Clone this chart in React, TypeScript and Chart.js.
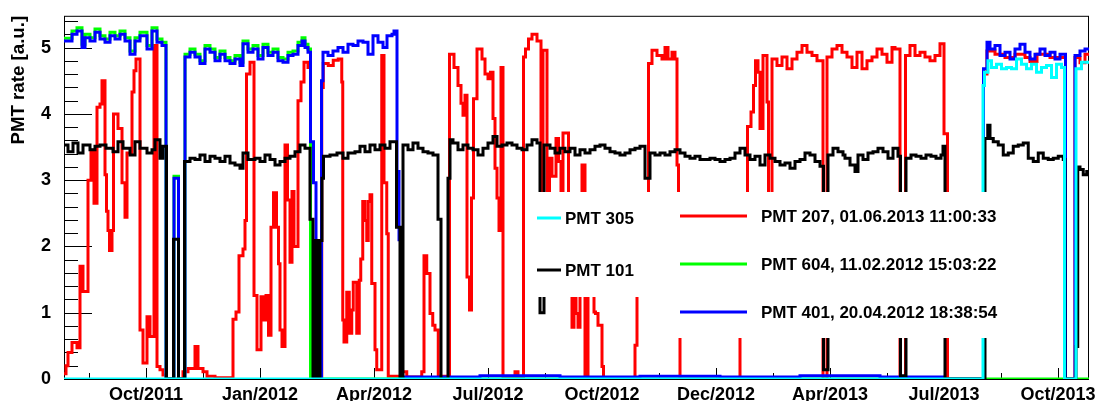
import React, { useEffect, useRef } from 'react';
import { Chart, registerables } from 'chart.js';

Chart.register(...registerables);

// x unit: days (axis window of the run period), y: PMT rate in a.u.
const X_MIN = 51.2;
const X_MAX = 871.2;
const Y_MIN = 0;
const Y_MAX = 5.48;

const X_TICK_DAYS = [116.8, 208, 299.2, 390.4, 481.6, 572.8, 664, 755.2, 846.4];
const X_TICK_LABELS = ['Oct/2011', 'Jan/2012', 'Apr/2012', 'Jul/2012', 'Oct/2012', 'Dec/2012', 'Apr/2013', 'Jul/2013', 'Oct/2013'];
const X_MINOR_TICK_DAYS = [71.2, 162.4, 253.6, 344.8, 436, 527.2, 618.4, 709.6, 800.8];
const Y_TICKS = [0, 1, 2, 3, 4, 5];
const Y_MINOR_TICKS = [0.2, 0.4, 0.6, 0.8, 1.2, 1.4, 1.6, 1.8, 2.2, 2.4, 2.6, 2.8, 3.2, 3.4, 3.6, 3.8, 4.2, 4.4, 4.6, 4.8, 5.2, 5.4];

const Y_TITLE = 'PMT rate [a.u.]';

// [day, rate] — each value holds until the next day
const PMT305: [number, number][] = [
  [51.2, 0], [786.4, 4.43], [787.6, 4.63], [790.4, 4.8], [793.2, 4.7], [797.2, 4.75], [801.2, 4.68],
  [805.2, 4.7], [809.2, 4.68], [813.2, 4.83], [817.2, 4.75], [821.2, 4.68], [825.2, 4.75], [829.2, 4.63],
  [833.2, 4.7], [837.2, 4.73], [841.2, 4.55], [845.2, 4.75], [849.2, 4.7], [851.6, 0], [860.8, 4.68],
  [865.2, 4.78], [871.2, 4.78],
];

const PMT101: [number, number][] = [
  [51.2, 3.53], [54.4, 3.43], [58.4, 3.56], [62.4, 3.41], [66.4, 3.53], [72, 3.46], [76, 3.51], [80, 3.53],
  [84.8, 3.48], [90.4, 3.43], [94.4, 3.58], [98.4, 3.48], [104, 3.38], [108, 3.58], [112, 3.48], [117.6, 3.41],
  [121.6, 3.46], [124, 3.61], [128, 3.33], [130.4, 3.51], [133.2, 0], [138.8, 2.11], [142.8, 0], [147.6, 3.28],
  [152, 3.33], [156, 3.31], [160, 3.38], [164, 3.28], [168, 3.36], [172, 3.33], [176, 3.28], [180, 3.36],
  [184, 3.26], [188, 3.23], [192, 3.18], [194.4, 3.41], [198.4, 3.31], [204, 3.33], [208, 3.28], [212, 3.38],
  [216, 3.31], [220, 3.23], [224, 3.28], [228, 3.33], [232, 3.36], [236, 3.43], [240, 3.53], [244, 3.48],
  [248, 2.41], [250.4, 0], [252, 2.09], [254.4, 0], [256, 2.09], [257.6, 3.03], [258.8, 3.36], [264, 3.38],
  [269.6, 3.41], [274.4, 3.33], [278.4, 3.41], [284, 3.43], [288, 3.51], [292, 3.43], [296, 3.53], [300, 3.46],
  [304, 3.53], [308, 3.48], [312, 3.58], [317.2, 2.29], [320, 0], [322.4, 3.53], [326.4, 3.46], [330.4, 3.56],
  [334.4, 3.48], [338.4, 3.43], [342.4, 3.41], [346.4, 3.38], [350.4, 2.41], [352.8, 0], [358.4, 3.03],
  [360, 3.61], [362.4, 3.56], [366.4, 3.46], [370.4, 3.53], [374.4, 3.48], [378.4, 3.46], [382.4, 3.38],
  [386.4, 3.48], [390.4, 3.56], [394.4, 3.66], [397.6, 3.51], [401.6, 3.53], [405.6, 3.56], [409.6, 3.53],
  [413.6, 3.48], [417.6, 3.46], [421.6, 3.53], [425.6, 3.61], [429.6, 3.56], [432, 1.0], [435.2, 3.53],
  [440, 3.48], [444, 3.41], [448, 3.48], [452, 3.43], [456, 3.48], [460, 3.38], [464, 3.46], [468, 3.41],
  [472, 3.46], [476, 3.51], [480, 3.53], [484, 3.48], [488, 3.43], [492, 3.41], [496, 3.38], [500, 3.41],
  [504, 3.46], [508, 3.48], [512, 3.51], [516, 3.03], [520, 3.41], [524, 3.38], [528, 3.41], [532, 3.38],
  [536, 3.43], [540, 3.46], [544, 3.41], [548, 3.36], [552, 3.33], [556, 3.36], [560, 3.31], [564, 3.31],
  [568, 3.33], [572, 3.31], [576, 3.28], [580, 3.31], [584, 3.33], [588, 3.41], [592, 3.48], [596, 3.38],
  [600, 3.31], [604, 3.36], [608, 3.23], [612, 3.38], [616, 3.33], [620, 3.28], [624, 3.23], [628, 3.26],
  [632, 3.18], [636, 3.28], [640, 3.31], [644, 3.41], [648, 3.38], [652, 3.28], [656, 3.21], [658.8, 0.14],
  [662.4, 3.38], [666.4, 3.48], [670.4, 3.43], [674.4, 3.38], [676, 3.33], [680, 3.23], [684, 3.13],
  [686.4, 3.38], [690.4, 3.31], [694.4, 3.41], [698.4, 3.43], [702.4, 3.48], [706.4, 3.43], [710.4, 3.33],
  [714.4, 3.48], [718.4, 3.36], [720.4, 0.05], [724.8, 3.33], [728.8, 3.38], [732.8, 3.36], [736.8, 3.33],
  [740.8, 3.38], [744.8, 3.36], [748.8, 3.33], [752.8, 3.38], [754.4, 3.51], [756, 0], [788, 3.63],
  [790.2, 3.83], [792, 3.63], [794.6, 3.58], [798.6, 3.53], [802.6, 3.38], [806.6, 3.41], [810.6, 3.51],
  [814.6, 3.53], [818.6, 3.56], [822.6, 3.33], [826.6, 3.28], [830.6, 3.41], [834.6, 3.33], [838.6, 3.31],
  [842.6, 3.33], [846.6, 3.36], [850.6, 3.31], [852, 0], [860.8, 0.49], [862.2, 3.2], [864, 3.16],
  [866.6, 3.08], [869.4, 3.13], [871.2, 3.13],
];

const PMT207: [number, number][] = [
  [51.2, 0.08], [52.8, 0.2], [54.4, 0.4], [57.6, 0.55], [61.6, 0.47], [64, 1.7], [66.4, 1.32], [70.4, 3.0],
  [72.8, 3.45], [75.2, 2.65], [77.6, 4.1], [80, 4.15], [81.6, 4.5], [84, 3.08], [85.2, 2.53], [86.4, 2.24],
  [87.6, 1.94], [89.6, 2.24], [90.8, 4.0], [94.4, 3.78], [97.6, 2.96], [100, 2.44], [101.6, 3.41],
  [105.6, 4.33], [107.2, 4.65], [108.8, 4.83], [112, 0.74], [114.4, 0.24], [117.6, 0.94], [120, 0.64],
  [123.2, 5.03], [125.6, 0.19], [128, 0.14], [130.4, 0.06], [132.8, 0], [146.4, 0.11], [150.4, 0.16],
  [156, 0.49], [158.4, 0.16], [162.4, 0.11], [165.6, 0.04], [172, 0.02], [186.4, 0.9], [188.8, 1.01],
  [191.2, 1.86], [194.4, 1.96], [196, 2.39], [197.2, 4.6], [200, 4.78], [203.2, 1.26], [205.6, 0.44],
  [208.8, 1.24], [211.2, 0.89], [212.8, 1.26], [214.8, 0.66], [216.8, 2.29], [218.8, 2.81], [221.2, 2.29],
  [222.8, 1.74], [224, 0.74], [225.6, 0.49], [228, 3.53], [230, 2.7], [232, 1.76], [233.6, 2.83], [235.2, 2.0],
  [238.4, 4.2], [240.8, 4.48], [243.2, 4.78], [246.4, 4.7], [248.4, 0], [257.4, 4.4], [258.6, 4.76],
  [262.6, 4.73], [266.6, 4.81], [270.6, 4.83], [273.4, 4.48], [274.2, 0.89], [275.2, 0.56], [277.4, 1.31],
  [279.4, 0.69], [281.4, 1.04], [282.6, 1.46], [285.4, 0.69], [287.4, 1.49], [288.6, 1.81], [290.2, 2.68],
  [292, 2.39], [293.4, 2.09], [294.6, 2.68], [296, 2.78], [297.4, 1.44], [300, 0.44], [301.4, 0.14],
  [305.4, 4.88], [307.2, 2.96], [309.4, 2.19], [310.6, 0.04], [321.4, 0.11], [325.4, 0.03], [337.4, 0.11],
  [339.2, 1.86], [341.4, 1.59], [344, 0.99], [346.2, 0.81], [348, 0.74], [350.6, 0.04], [359.6, 4.9],
  [363.2, 4.7], [366.4, 4.43], [368.8, 4.16], [370.4, 3.98], [372, 4.28], [373.6, 1.54], [375.6, 1.04],
  [377.2, 2.73], [378.8, 4.23], [381.6, 4.98], [385.6, 4.83], [388, 4.6], [390.4, 4.53], [392.4, 4.63],
  [394.4, 3.93], [396, 3.18], [397.6, 2.73], [399.2, 2.24], [400.8, 4.7], [402.4, 0.03], [412, 0.11],
  [414.4, 0.03], [418.8, 4.86], [420.4, 4.98], [422.8, 5.13], [425.6, 5.2], [429.6, 5.1], [432.8, 2.0],
  [434.4, 4.96], [437.6, 2.0], [439.6, 3.33], [441.6, 3.06], [444.8, 3.63], [446.8, 3.28], [448.8, 2.0],
  [450.4, 3.71], [454.8, 2.0], [457.6, 0.78], [459.2, 2.0], [460.8, 0.99], [462.4, 0.78], [464, 2.0],
  [465.6, 3.23], [468, 0.06], [470.4, 2.0], [473.6, 1.5], [475.2, 1.01], [476.4, 0.99], [478.4, 0.81],
  [481.6, 0.19], [482.8, 0], [508, 0.51], [509.6, 2.2], [517.6, 2.6], [518.8, 4.76], [521.6, 4.96],
  [525.6, 4.88], [529.6, 4.83], [532, 5.0], [534.4, 4.83], [537.6, 4.93], [540, 4.83], [541.6, 3.23],
  [542.8, 1.5], [544, 0], [592, 1.8], [598, 3.81], [600.8, 4.03], [602.8, 4.43], [604.4, 4.8], [606.4, 4.63],
  [608, 3.78], [610.4, 4.88], [613.6, 4.18], [614.8, 1.8], [617.6, 4.83], [621.6, 4.73], [625.6, 4.86],
  [629.6, 4.68], [633.6, 4.83], [637.6, 4.93], [641.6, 5.03], [645.6, 4.93], [649.6, 4.88], [653.6, 4.8],
  [658.4, 0], [661.6, 4.86], [665.6, 4.98], [669.6, 5.03], [673.6, 4.93], [677.6, 4.86], [681.6, 4.7],
  [685.6, 4.93], [689.6, 4.68], [693.6, 4.8], [697.6, 4.86], [701.6, 4.98], [705.6, 4.9], [709.6, 4.78],
  [713.6, 5.0], [716, 4.98], [720, 0], [724.4, 4.88], [728, 5.03], [732, 4.88], [736, 4.93], [740, 4.86],
  [744, 4.8], [748, 4.88], [752, 5.06], [755.2, 3.7], [758, 0], [786.8, 4.6], [789.6, 4.95], [796, 4.9],
  [804, 4.85], [812, 4.9], [820, 4.85], [824, 4.79], [829.6, 4.9], [840, 4.85], [848, 4.85], [852.4, 0],
  [860, 4.85], [864, 4.77], [868, 4.9], [871.2, 4.9],
];

const PMT604: [number, number][] = [
  [51.2, 5.14], [57.6, 5.25], [61.6, 5.3], [65.6, 5.05], [68, 5.2], [72, 5.15], [76, 5.28], [80, 5.18],
  [84, 5.13], [88, 5.23], [92, 5.18], [96, 5.25], [100, 5.15], [104, 4.95], [108, 5.15], [112, 5.23],
  [117.6, 5.03], [121.6, 5.3], [125.6, 5.13], [129.6, 5.08], [132.8, 0], [139.2, 3.06], [142.8, 0],
  [148, 4.9], [152, 4.98], [156, 4.9], [160, 4.8], [164, 5.03], [168, 4.98], [172, 4.85], [176, 4.95],
  [180, 4.85], [184, 4.8], [188, 4.88], [192, 4.78], [194.4, 5.1], [198.4, 4.98], [202.4, 5.03],
  [206.4, 4.88], [210.4, 5.05], [214.4, 4.93], [218.4, 4.98], [222.4, 4.85], [226.4, 4.83], [230.4, 4.93],
  [234.4, 4.95], [238.4, 5.08], [241.6, 5.15], [244, 5.05], [246.4, 4.98], [248.4, 0], [871.2, 0],
];

const PMT401: [number, number][] = [
  [51.2, 5.1], [57.6, 5.2], [61.6, 5.25], [65.6, 5.0], [68, 5.15], [72, 5.1], [76, 5.23], [80, 5.13],
  [84, 5.08], [88, 5.18], [92, 5.13], [96, 5.2], [100, 5.1], [104, 4.9], [108, 5.1], [112, 5.18],
  [117.6, 4.98], [121.6, 5.25], [125.6, 5.08], [129.6, 5.03], [132.8, 0], [139.2, 3.03], [142.8, 0],
  [148, 4.86], [152, 4.93], [156, 4.86], [160, 4.76], [164, 4.98], [168, 4.93], [172, 4.8], [176, 4.9],
  [180, 4.8], [184, 4.76], [188, 4.83], [192, 4.73], [194.4, 5.06], [198.4, 4.93], [202.4, 4.98],
  [206.4, 4.83], [210.4, 5.0], [214.4, 4.88], [218.4, 4.93], [222.4, 4.8], [226.4, 4.78], [230.4, 4.88],
  [234.4, 4.9], [238.4, 5.03], [241.6, 5.1], [244, 5.0], [246.4, 4.93], [248.4, 3.58], [250.8, 2.96],
  [252.8, 2.09], [254.4, 0], [257.2, 4.5], [258.4, 4.93], [262.4, 4.88], [266.4, 4.95], [270.4, 5.0],
  [274.4, 4.93], [278.4, 5.05], [282.4, 5.03], [286.4, 5.1], [290.4, 5.08], [294.4, 4.9], [298.4, 5.18],
  [302.4, 5.08], [306.4, 5.0], [309.6, 5.18], [313.6, 5.2], [315.2, 5.25], [317.6, 3.13], [319.2, 2.1],
  [320.4, 0.03], [384, 0.05], [448, 0.03], [512, 0.04], [576, 0.03], [640, 0.05], [704, 0.03], [755.2, 0],
  [786.8, 4.68], [789.6, 5.08], [792, 4.98], [796, 5.03], [800, 4.88], [804, 4.93], [808, 4.83], [812, 4.98],
  [816, 5.05], [820, 4.93], [824, 4.83], [828, 4.9], [832, 4.98], [836, 4.88], [840, 4.93], [844, 4.83],
  [848, 4.9], [852.4, 0], [860, 4.88], [864, 4.95], [868, 4.98], [871.2, 4.98],
];

const SERIES_NAMES = ['PMT 305', 'PMT 101', 'PMT 401', 'PMT 604', 'PMT 207'];
const LEGEND_LEFT = ['PMT 305', 'PMT 101'];
const LEGEND_RIGHT = ['PMT 207, 01.06.2013 11:00:33', 'PMT 604, 11.02.2012 15:03:22', 'PMT 401, 20.04.2012 18:38:54'];

const CYAN = '#00ffff';
const BLACK = '#000000';
const RED = '#ff0000';
const GREEN = '#00ff00';
const BLUE = '#0000ff';

const FONT = 'Liberation Sans, Arial, Helvetica, sans-serif';

const toPoints = (pairs: [number, number][]) => pairs.map(([x, y]) => ({ x, y }));

const framePlugin = {
  id: 'rootFrame',
  beforeDatasetsDraw(chart: any) {
    const { ctx, chartArea: a, scales } = chart;
    const xs = scales.x;
    const ys = scales.y;
    ctx.save();
    ctx.strokeStyle = '#000';
    ctx.lineWidth = 1;
    ctx.strokeRect(a.left + 0.5, a.top + 0.5, a.right - a.left - 1, a.bottom - a.top);
    ctx.beginPath();
    Y_TICKS.forEach((v) => {
      const y = Math.round(ys.getPixelForValue(v)) + 0.5;
      ctx.moveTo(a.left, y);
      ctx.lineTo(a.left + 28, y);
    });
    Y_MINOR_TICKS.forEach((v) => {
      const y = Math.round(ys.getPixelForValue(v)) + 0.5;
      ctx.moveTo(a.left, y);
      ctx.lineTo(a.left + 14, y);
    });
    X_TICK_DAYS.forEach((d) => {
      const x = Math.round(xs.getPixelForValue(d)) + 0.5;
      ctx.moveTo(x, a.bottom);
      ctx.lineTo(x, a.bottom - 11);
    });
    X_MINOR_TICK_DAYS.forEach((d) => {
      const x = Math.round(xs.getPixelForValue(d)) + 0.5;
      ctx.moveTo(x, a.bottom);
      ctx.lineTo(x, a.bottom - 6);
    });
    ctx.stroke();
    ctx.restore();
  },
};

const legendPlugin = {
  id: 'rootLegend',
  afterDatasetsDraw(chart: any) {
    const { ctx } = chart;
    ctx.save();
    ctx.fillStyle = '#ffffff';
    ctx.fillRect(532, 192, 113, 105);
    ctx.fillRect(645, 192, 360, 146);
    ctx.lineWidth = 3;
    ctx.lineCap = 'butt';
    const left = [CYAN, BLACK];
    const leftY = [218, 270];
    left.forEach((c, i) => {
      ctx.strokeStyle = c;
      ctx.beginPath();
      ctx.moveTo(537, leftY[i]);
      ctx.lineTo(561, leftY[i]);
      ctx.stroke();
    });
    const right = [RED, GREEN, BLUE];
    const rightY = [216, 264, 312];
    right.forEach((c, i) => {
      ctx.strokeStyle = c;
      ctx.beginPath();
      ctx.moveTo(680, rightY[i]);
      ctx.lineTo(747, rightY[i]);
      ctx.stroke();
    });
    ctx.fillStyle = '#000';
    ctx.font = `bold 17px ${FONT}`;
    ctx.textBaseline = 'middle';
    ctx.textAlign = 'left';
    LEGEND_LEFT.forEach((t, i) => ctx.fillText(t, 565, leftY[i] + 1));
    LEGEND_RIGHT.forEach((t, i) => ctx.fillText(t, 761, rightY[i] + 1));
    ctx.restore();
  },
};

export default function App() {
  const canvasRef = useRef<HTMLCanvasElement | null>(null);

  useEffect(() => {
    const canvas = canvasRef.current;
    if (!canvas) return;
    const common = {
      stepped: true as const,
      borderWidth: 3,
      pointRadius: 0,
      pointHoverRadius: 0,
      fill: false,
      tension: 0,
      borderJoinStyle: 'miter' as const,
      borderCapStyle: 'butt' as const,
    };
    const chart = new Chart(canvas, {
      type: 'line',
      data: {
        datasets: [
          { ...common, label: SERIES_NAMES[0], data: toPoints(PMT305), borderColor: CYAN, order: 0 },
          { ...common, label: SERIES_NAMES[1], data: toPoints(PMT101), borderColor: BLACK, order: 1 },
          { ...common, label: SERIES_NAMES[2], data: toPoints(PMT401), borderColor: BLUE, order: 2 },
          { ...common, label: SERIES_NAMES[3], data: toPoints(PMT604), borderColor: GREEN, order: 3 },
          { ...common, label: SERIES_NAMES[4], data: toPoints(PMT207), borderColor: RED, order: 4 },
        ],
      },
      options: {
        animation: false,
        responsive: false,
        events: [],
        layout: { padding: { left: 0, right: 8, top: 13, bottom: 0 }, autoPadding: false },
        plugins: { legend: { display: false }, tooltip: { enabled: false } },
        scales: {
          x: {
            type: 'linear',
            min: X_MIN,
            max: X_MAX,
            grid: { display: false },
            border: { display: false },
            afterBuildTicks: (s: any) => {
              s.ticks = X_TICK_DAYS.map((v) => ({ value: v }));
            },
            afterFit: (s: any) => {
              s.height = 22;
            },
            ticks: {
              autoSkip: false,
              maxRotation: 0,
              minRotation: 0,
              padding: -3,
              color: '#000',
              font: { family: FONT, size: 18, weight: 'bold' },
              callback: (_v: any, i: number) => X_TICK_LABELS[i],
            },
          },
          y: {
            type: 'linear',
            min: Y_MIN,
            max: Y_MAX,
            grid: { display: false },
            border: { display: false },
            afterBuildTicks: (s: any) => {
              s.ticks = Y_TICKS.map((v) => ({ value: v }));
            },
            afterFit: (s: any) => {
              s.width = 64;
            },
            ticks: {
              padding: 5,
              color: '#000',
              font: { family: FONT, size: 18, weight: 'bold' },
              callback: (v: any) => String(v),
            },
            title: {
              display: true,
              text: Y_TITLE,
              align: 'end',
              color: '#000',
              font: { family: FONT, size: 18.7, weight: 'bold' },
              padding: { top: 8, bottom: 0 },
            },
          },
        },
      },
      plugins: [framePlugin, legendPlugin],
    } as any);
    return () => chart.destroy();
  }, []);

  return (
    <div style={{ position: 'fixed', left: 0, top: 0, width: 1097, height: 401, background: '#fff' }}>
      <canvas ref={canvasRef} width={1097} height={401} style={{ display: 'block', width: 1097, height: 401 }} />
    </div>
  );
}
